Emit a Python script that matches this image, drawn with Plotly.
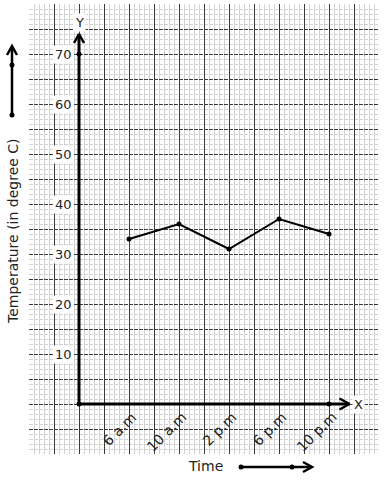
import plotly.graph_objects as go

# ---- data ----
times = ["6 a.m", "10 a.m", "2 p.m", "6 p.m", "10 p.m"]
temps = [33, 36, 31, 37, 34]
y_ticks = [10, 20, 30, 40, 50, 60, 70]

x_pos = list(range(1, len(times) + 1))

W, H = 384, 480
ML, MR, MT, MB = 29, 5, 4, 26
X_RANGE = [-1, 6]
Y_RANGE = [-10, 80]
FONT = "DejaVu Sans"

def px2paper(px, py):
    return (px - ML) / (W - ML - MR), (H - MB - py) / (H - MT - MB)

fig = go.Figure()

# axis arrows (data space)
y_tip = 74
x_tip = 5.41
fig.add_trace(go.Scatter(x=[0, 0], y=[0, y_tip], mode="lines",
                         line=dict(color="black", width=3), hoverinfo="skip"))
fig.add_trace(go.Scatter(x=[0, x_tip], y=[0, 0], mode="lines",
                         line=dict(color="black", width=3), hoverinfo="skip"))
fig.add_trace(go.Scatter(x=[-0.1, 0, 0.1], y=[y_tip - 1.8, y_tip, y_tip - 1.8], mode="lines",
                         line=dict(color="black", width=2.5), hoverinfo="skip"))
fig.add_trace(go.Scatter(x=[x_tip - 0.2, x_tip, x_tip - 0.2], y=[1.1, 0, -1.1], mode="lines",
                         line=dict(color="black", width=2.5), hoverinfo="skip"))
fig.add_trace(go.Scatter(x=[0, 0, x_pos[-1]], y=[0, max(y_ticks), 0], mode="markers",
                         marker=dict(color="black", size=5), hoverinfo="skip"))

# data series
fig.add_trace(go.Scatter(x=x_pos, y=temps, mode="lines+markers",
                         line=dict(color="black", width=2),
                         marker=dict(color="black", size=5)))

annotations = []
for v in y_ticks:
    annotations.append(dict(x=0, y=v, xref="x", yref="y", text=str(v), showarrow=False,
                            xanchor="right", yanchor="middle", xshift=-5,
                            bgcolor="white", borderpad=1,
                            font=dict(family=FONT, size=13, color="#222")))
for xp, t in zip(x_pos, times):
    annotations.append(dict(x=xp, y=0, xref="x", yref="y", text=t, showarrow=False,
                            textangle=-45, xanchor="right", yanchor="top",
                            xshift=13, yshift=-2,
                            font=dict(family=FONT, size=14, color="#222")))
annotations.append(dict(x=0, y=y_tip, xref="x", yref="y", text="Y", showarrow=False,
                        xanchor="center", yanchor="middle", yshift=12, bgcolor="white",
                        font=dict(family=FONT, size=13, color="#222")))
annotations.append(dict(x=x_tip, y=0, xref="x", yref="y", text="X", showarrow=False,
                        xanchor="center", yanchor="middle", xshift=9, bgcolor="white",
                        font=dict(family=FONT, size=13, color="#222")))
tx, ty = px2paper(13, 231)
annotations.append(dict(x=tx, y=ty, xref="paper", yref="paper", text="Temperature (in degree C)",
                        showarrow=False, textangle=-90, xanchor="center", yanchor="middle",
                        font=dict(family=FONT, size=14, color="#222")))
tx, ty = px2paper(205, 466)
annotations.append(dict(x=tx, y=ty, xref="paper", yref="paper", text="Time",
                        showarrow=False, xanchor="center", yanchor="middle",
                        font=dict(family=FONT, size=14, color="#222")))

shapes = []
def pline(pts, width):
    path = ""
    for i, (a, b) in enumerate(pts):
        X, Y = px2paper(a, b)
        path += ("M" if i == 0 else "L") + f"{X},{Y} "
    shapes.append(dict(type="path", path=path, xref="paper", yref="paper",
                       line=dict(color="black", width=width)))
def pdot(a, b):
    X, Y = px2paper(a, b)
    shapes.append(dict(type="circle", xref="paper", yref="paper", xsizemode="pixel",
                       ysizemode="pixel", xanchor=X, yanchor=Y, x0=-2.5, x1=2.5, y0=-2.5, y1=2.5,
                       fillcolor="black", line=dict(color="black", width=0)))

# left decorative arrow
pline([(12, 115), (12, 47)], 2.5)
pline([(7, 55), (12, 46), (17, 55)], 2.5)
pdot(12, 65)
pdot(12, 115)
# bottom decorative arrow
pline([(241, 467), (311, 467)], 2.5)
pline([(303, 462), (312, 467), (303, 472)], 2.5)
pdot(241, 467)
pdot(292, 467)

fig.update_layout(
    width=W, height=H, margin=dict(l=ML, r=MR, t=MT, b=MB),
    paper_bgcolor="white", plot_bgcolor="white", showlegend=False,
    annotations=annotations, shapes=shapes,
    xaxis=dict(range=X_RANGE, tick0=0, dtick=0.5, showgrid=True, gridcolor="#3a3a3a", gridwidth=1,
               showticklabels=False, ticks="", zeroline=False, showline=False,
               minor=dict(dtick=0.1, showgrid=True, gridcolor="#d2d2d2", gridwidth=1)),
    yaxis=dict(range=Y_RANGE, tick0=0, dtick=5, showgrid=True, gridcolor="#3a3a3a", gridwidth=1,
               griddash="4px,1px", showticklabels=False, ticks="", zeroline=False, showline=False,
               minor=dict(dtick=1, showgrid=True, gridcolor="#d2d2d2", gridwidth=1,
                          griddash="4px,1px")),
)

fig.write_html("out.html", config={"displayModeBar": False},
               post_script="document.body.style.margin='0';")
